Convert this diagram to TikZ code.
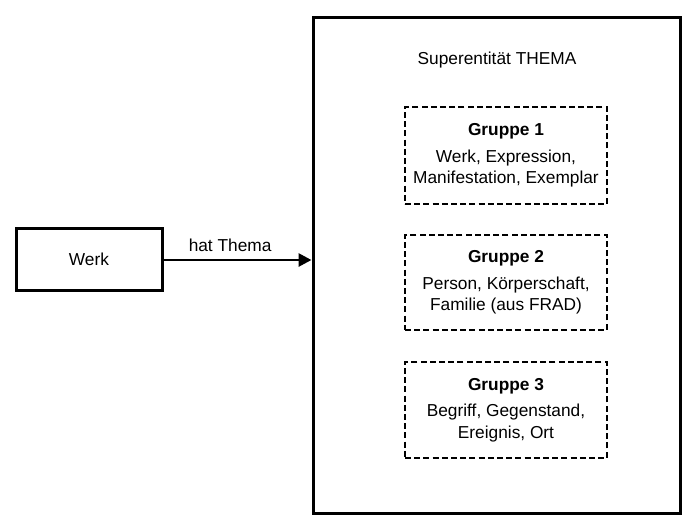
\documentclass[tikz,border=0pt]{standalone}
\usepackage{fontspec}
\setmainfont{Liberation Sans}
\usetikzlibrary{arrows.meta}
\begin{document}
\begin{tikzpicture}[x=1pt,y=-1pt,
  every node/.style={font=\fontsize{17.3}{21.5}\selectfont, inner sep=0pt},
  solidbox/.style={draw, line width=3pt, minimum width=#1},
  groupbox/.style={draw, line width=2.5pt, dash pattern=on 6pt off 3.2pt, minimum width=202pt, align=center},
  conn/.style={line width=2.8pt, -{Triangle[length=13pt,width=13pt]}}
]
\useasboundingbox (0,0) rectangle (697,531);
\node[solidbox=146pt, minimum height=62pt] (werk) at (89,259) {Werk};
\node[solidbox=367pt, minimum height=496pt] (super) at (496.5,265) {};
\node (title) at (497,60) {Superentität THEMA};
\node[groupbox, minimum height=97pt] (g1) at (506,155.5) {\textbf{Gruppe 1}\\[5pt]Werk, Expression,\\Manifestation, Exemplar};
\node[groupbox, minimum height=95pt] (g2) at (506,282.5) {\textbf{Gruppe 2}\\[5pt]Person, Körperschaft,\\Familie (aus FRAD)};
\node[groupbox, minimum height=96pt] (g3) at (506,410) {\textbf{Gruppe 3}\\[5pt]Begriff, Gegenstand,\\Ereignis, Ort};
\draw[conn] (werk.east |- 0,260) -- node[pos=0.45, above=7pt] {hat Thema} (super.west |- 0,260);
\end{tikzpicture}
\end{document}
